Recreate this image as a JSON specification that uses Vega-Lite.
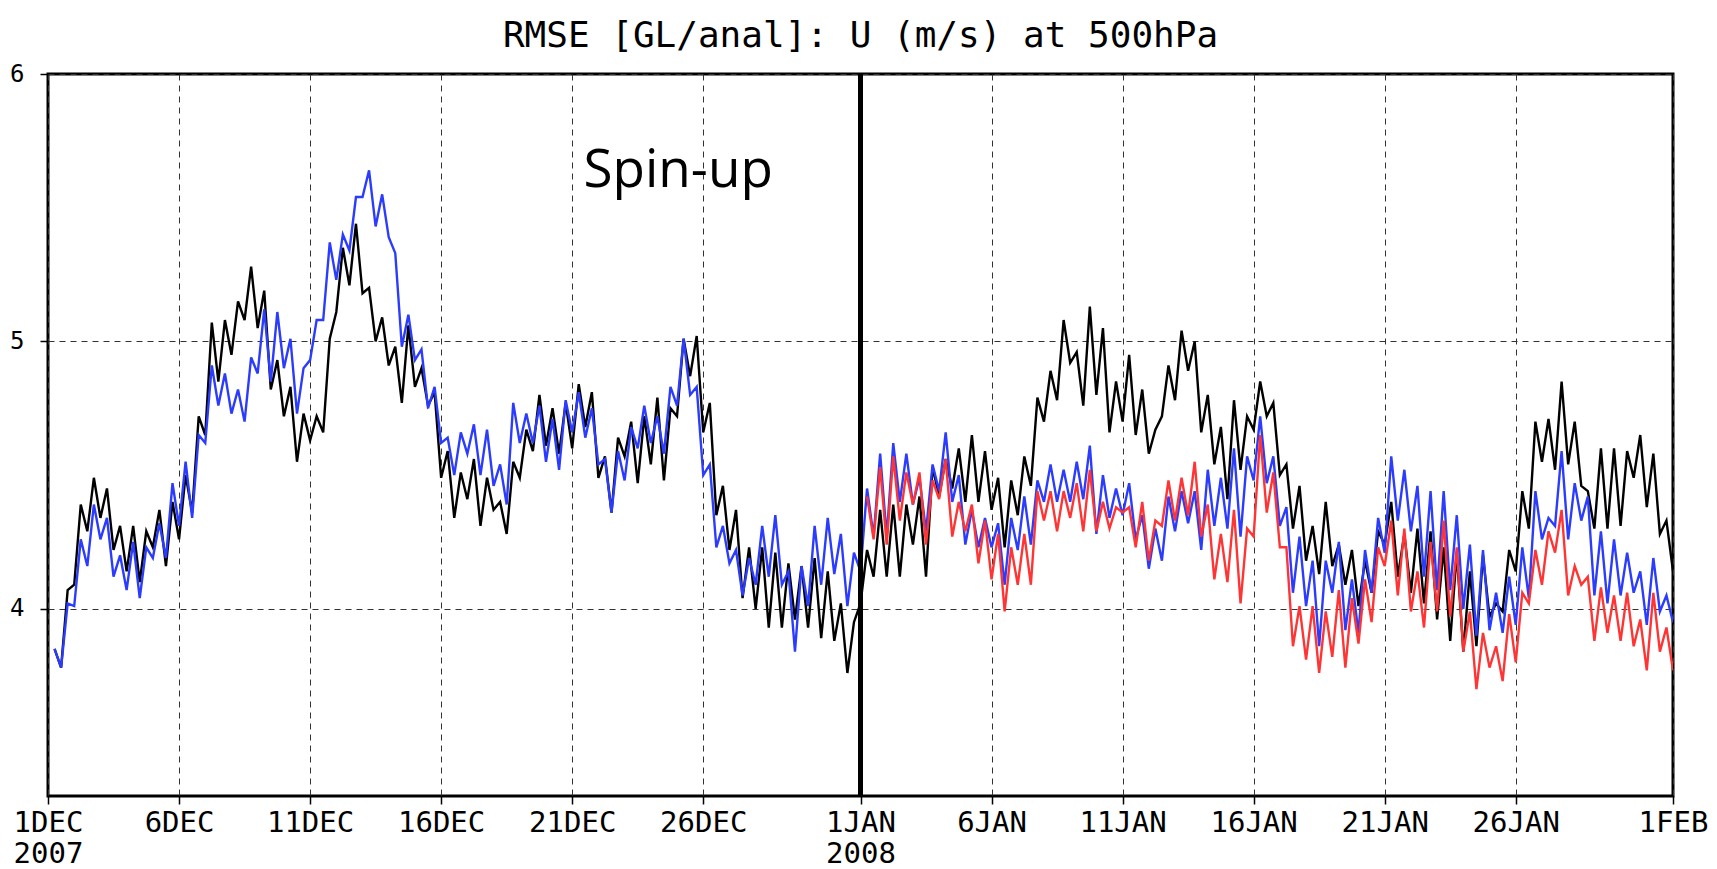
{
  "$schema": "https://vega.github.io/schema/vega-lite/v6.json",
  "width": 1625,
  "height": 722,
  "autosize": "none",
  "padding": {"left": 48, "top": 74, "right": 44, "bottom": 73},
  "background": "white",
  "title": {"text": "RMSE [GL/anal]: U (m/s) at 500hPa", "font": "DejaVu Sans Mono", "fontSize": 36, "fontWeight": "normal", "color": "black", "anchor": "middle", "offset": 7},
  "config": {"view": {"stroke": "black", "strokeWidth": 3}},
  "layer": [
    {
      "data": {"values": [
        {"t":"2007-12-01T06:00Z","k":3.85,"b":3.85},{"t":"2007-12-01T12:00Z","k":3.78,"b":3.78},{"t":"2007-12-01T18:00Z","k":4.07,"b":4.02},
        {"t":"2007-12-02T00:00Z","k":4.09,"b":4.01},{"t":"2007-12-02T06:00Z","k":4.39,"b":4.26},{"t":"2007-12-02T12:00Z","k":4.29,"b":4.16},{"t":"2007-12-02T18:00Z","k":4.49,"b":4.39},
        {"t":"2007-12-03T00:00Z","k":4.34,"b":4.26},{"t":"2007-12-03T06:00Z","k":4.45,"b":4.34},{"t":"2007-12-03T12:00Z","k":4.22,"b":4.12},{"t":"2007-12-03T18:00Z","k":4.31,"b":4.20},
        {"t":"2007-12-04T00:00Z","k":4.14,"b":4.07},{"t":"2007-12-04T06:00Z","k":4.31,"b":4.25},{"t":"2007-12-04T12:00Z","k":4.10,"b":4.04},{"t":"2007-12-04T18:00Z","k":4.29,"b":4.23},
        {"t":"2007-12-05T00:00Z","k":4.23,"b":4.19},{"t":"2007-12-05T06:00Z","k":4.37,"b":4.32},{"t":"2007-12-05T12:00Z","k":4.16,"b":4.19},{"t":"2007-12-05T18:00Z","k":4.40,"b":4.47},
        {"t":"2007-12-06T00:00Z","k":4.26,"b":4.31},{"t":"2007-12-06T06:00Z","k":4.50,"b":4.55},{"t":"2007-12-06T12:00Z","k":4.36,"b":4.34},{"t":"2007-12-06T18:00Z","k":4.72,"b":4.65},
        {"t":"2007-12-07T00:00Z","k":4.65,"b":4.62},{"t":"2007-12-07T06:00Z","k":5.07,"b":4.91},{"t":"2007-12-07T12:00Z","k":4.85,"b":4.76},{"t":"2007-12-07T18:00Z","k":5.08,"b":4.88},
        {"t":"2007-12-08T00:00Z","k":4.95,"b":4.73},{"t":"2007-12-08T06:00Z","k":5.15,"b":4.82},{"t":"2007-12-08T12:00Z","k":5.08,"b":4.70},{"t":"2007-12-08T18:00Z","k":5.28,"b":4.94},
        {"t":"2007-12-09T00:00Z","k":5.05,"b":4.88},{"t":"2007-12-09T06:00Z","k":5.19,"b":5.12},{"t":"2007-12-09T12:00Z","k":4.82,"b":4.85},{"t":"2007-12-09T18:00Z","k":4.93,"b":5.11},
        {"t":"2007-12-10T00:00Z","k":4.72,"b":4.90},{"t":"2007-12-10T06:00Z","k":4.83,"b":5.01},{"t":"2007-12-10T12:00Z","k":4.55,"b":4.73},{"t":"2007-12-10T18:00Z","k":4.73,"b":4.90},
        {"t":"2007-12-11T00:00Z","k":4.63,"b":4.93},{"t":"2007-12-11T06:00Z","k":4.72,"b":5.08},{"t":"2007-12-11T12:00Z","k":4.66,"b":5.08},{"t":"2007-12-11T18:00Z","k":5.01,"b":5.37},
        {"t":"2007-12-12T00:00Z","k":5.11,"b":5.23},{"t":"2007-12-12T06:00Z","k":5.35,"b":5.40},{"t":"2007-12-12T12:00Z","k":5.21,"b":5.34},{"t":"2007-12-12T18:00Z","k":5.44,"b":5.54},
        {"t":"2007-12-13T00:00Z","k":5.18,"b":5.54},{"t":"2007-12-13T06:00Z","k":5.20,"b":5.64},{"t":"2007-12-13T12:00Z","k":5.00,"b":5.43},{"t":"2007-12-13T18:00Z","k":5.09,"b":5.55},
        {"t":"2007-12-14T00:00Z","k":4.91,"b":5.39},{"t":"2007-12-14T06:00Z","k":4.98,"b":5.33},{"t":"2007-12-14T12:00Z","k":4.77,"b":4.98},{"t":"2007-12-14T18:00Z","k":5.06,"b":5.10},
        {"t":"2007-12-15T00:00Z","k":4.83,"b":4.93},{"t":"2007-12-15T06:00Z","k":4.90,"b":4.97},{"t":"2007-12-15T12:00Z","k":4.76,"b":4.75},{"t":"2007-12-15T18:00Z","k":4.81,"b":4.83},
        {"t":"2007-12-16T00:00Z","k":4.49,"b":4.62},{"t":"2007-12-16T06:00Z","k":4.59,"b":4.64},{"t":"2007-12-16T12:00Z","k":4.34,"b":4.50},{"t":"2007-12-16T18:00Z","k":4.51,"b":4.66},
        {"t":"2007-12-17T00:00Z","k":4.41,"b":4.58},{"t":"2007-12-17T06:00Z","k":4.56,"b":4.69},{"t":"2007-12-17T12:00Z","k":4.31,"b":4.50},{"t":"2007-12-17T18:00Z","k":4.49,"b":4.67},
        {"t":"2007-12-18T00:00Z","k":4.37,"b":4.46},{"t":"2007-12-18T06:00Z","k":4.40,"b":4.54},{"t":"2007-12-18T12:00Z","k":4.28,"b":4.39},{"t":"2007-12-18T18:00Z","k":4.55,"b":4.77},
        {"t":"2007-12-19T00:00Z","k":4.49,"b":4.62},{"t":"2007-12-19T06:00Z","k":4.67,"b":4.73},{"t":"2007-12-19T12:00Z","k":4.59,"b":4.62},{"t":"2007-12-19T18:00Z","k":4.80,"b":4.76},
        {"t":"2007-12-20T00:00Z","k":4.61,"b":4.55},{"t":"2007-12-20T06:00Z","k":4.75,"b":4.71},{"t":"2007-12-20T12:00Z","k":4.58,"b":4.52},{"t":"2007-12-20T18:00Z","k":4.77,"b":4.78},
        {"t":"2007-12-21T00:00Z","k":4.60,"b":4.66},{"t":"2007-12-21T06:00Z","k":4.84,"b":4.81},{"t":"2007-12-21T12:00Z","k":4.68,"b":4.64},{"t":"2007-12-21T18:00Z","k":4.81,"b":4.75},
        {"t":"2007-12-22T00:00Z","k":4.49,"b":4.54},{"t":"2007-12-22T06:00Z","k":4.57,"b":4.56},{"t":"2007-12-22T12:00Z","k":4.36,"b":4.36},{"t":"2007-12-22T18:00Z","k":4.64,"b":4.59},
        {"t":"2007-12-23T00:00Z","k":4.57,"b":4.48},{"t":"2007-12-23T06:00Z","k":4.70,"b":4.68},{"t":"2007-12-23T12:00Z","k":4.47,"b":4.60},{"t":"2007-12-23T18:00Z","k":4.72,"b":4.76},
        {"t":"2007-12-24T00:00Z","k":4.54,"b":4.62},{"t":"2007-12-24T06:00Z","k":4.79,"b":4.72},{"t":"2007-12-24T12:00Z","k":4.48,"b":4.58},{"t":"2007-12-24T18:00Z","k":4.75,"b":4.83},
        {"t":"2007-12-25T00:00Z","k":4.72,"b":4.76},{"t":"2007-12-25T06:00Z","k":5.01,"b":5.01},{"t":"2007-12-25T12:00Z","k":4.87,"b":4.80},{"t":"2007-12-25T18:00Z","k":5.02,"b":4.83},
        {"t":"2007-12-26T00:00Z","k":4.66,"b":4.50},{"t":"2007-12-26T06:00Z","k":4.77,"b":4.54},{"t":"2007-12-26T12:00Z","k":4.35,"b":4.23},{"t":"2007-12-26T18:00Z","k":4.46,"b":4.31},
        {"t":"2007-12-27T00:00Z","k":4.22,"b":4.17},{"t":"2007-12-27T06:00Z","k":4.37,"b":4.22},{"t":"2007-12-27T12:00Z","k":4.04,"b":4.05},{"t":"2007-12-27T18:00Z","k":4.23,"b":4.19},
        {"t":"2007-12-28T00:00Z","k":4.00,"b":4.09},{"t":"2007-12-28T06:00Z","k":4.23,"b":4.31},{"t":"2007-12-28T12:00Z","k":3.93,"b":4.12},{"t":"2007-12-28T18:00Z","k":4.21,"b":4.35},
        {"t":"2007-12-29T00:00Z","k":3.93,"b":4.09},{"t":"2007-12-29T06:00Z","k":4.17,"b":4.14},{"t":"2007-12-29T12:00Z","k":3.96,"b":3.84},{"t":"2007-12-29T18:00Z","k":4.16,"b":4.16},
        {"t":"2007-12-30T00:00Z","k":3.93,"b":4.01},{"t":"2007-12-30T06:00Z","k":4.19,"b":4.31},{"t":"2007-12-30T12:00Z","k":3.89,"b":4.09},{"t":"2007-12-30T18:00Z","k":4.14,"b":4.34},
        {"t":"2007-12-31T00:00Z","k":3.88,"b":4.13},{"t":"2007-12-31T06:00Z","k":4.02,"b":4.28},{"t":"2007-12-31T12:00Z","k":3.76,"b":4.01},{"t":"2007-12-31T18:00Z","k":3.95,"b":4.21},
        {"t":"2008-01-01T00:00Z","k":4.02,"b":4.14},{"t":"2008-01-01T06:00Z","k":4.22,"b":4.45,"r":4.42},{"t":"2008-01-01T12:00Z","k":4.12,"b":4.27,"r":4.26},{"t":"2008-01-01T18:00Z","k":4.37,"b":4.58,"r":4.53},
        {"t":"2008-01-02T00:00Z","k":4.12,"b":4.27,"r":4.24},{"t":"2008-01-02T06:00Z","k":4.39,"b":4.62,"r":4.57},{"t":"2008-01-02T12:00Z","k":4.12,"b":4.40,"r":4.33},{"t":"2008-01-02T18:00Z","k":4.39,"b":4.58,"r":4.51},
        {"t":"2008-01-03T00:00Z","k":4.24,"b":4.39,"r":4.39},{"t":"2008-01-03T06:00Z","k":4.42,"b":4.49,"r":4.51},{"t":"2008-01-03T12:00Z","k":4.12,"b":4.29,"r":4.24},{"t":"2008-01-03T18:00Z","k":4.53,"b":4.54,"r":4.48},
        {"t":"2008-01-04T00:00Z","k":4.42,"b":4.44,"r":4.41},{"t":"2008-01-04T06:00Z","k":4.56,"b":4.66,"r":4.56},{"t":"2008-01-04T12:00Z","k":4.45,"b":4.40,"r":4.27},{"t":"2008-01-04T18:00Z","k":4.60,"b":4.50,"r":4.40},
        {"t":"2008-01-05T00:00Z","k":4.40,"b":4.24,"r":4.29},{"t":"2008-01-05T06:00Z","k":4.65,"b":4.37,"r":4.39},{"t":"2008-01-05T12:00Z","k":4.40,"b":4.23,"r":4.17},{"t":"2008-01-05T18:00Z","k":4.59,"b":4.34,"r":4.33},
        {"t":"2008-01-06T00:00Z","k":4.37,"b":4.23,"r":4.11},{"t":"2008-01-06T06:00Z","k":4.49,"b":4.32,"r":4.28},{"t":"2008-01-06T12:00Z","k":4.23,"b":4.09,"r":3.99},{"t":"2008-01-06T18:00Z","k":4.48,"b":4.34,"r":4.23},
        {"t":"2008-01-07T00:00Z","k":4.35,"b":4.22,"r":4.09},{"t":"2008-01-07T06:00Z","k":4.57,"b":4.42,"r":4.28},{"t":"2008-01-07T12:00Z","k":4.46,"b":4.24,"r":4.09},{"t":"2008-01-07T18:00Z","k":4.79,"b":4.48,"r":4.44},
        {"t":"2008-01-08T00:00Z","k":4.70,"b":4.40,"r":4.33},{"t":"2008-01-08T06:00Z","k":4.89,"b":4.54,"r":4.44},{"t":"2008-01-08T12:00Z","k":4.78,"b":4.40,"r":4.29},{"t":"2008-01-08T18:00Z","k":5.08,"b":4.52,"r":4.44},
        {"t":"2008-01-09T00:00Z","k":4.92,"b":4.40,"r":4.34},{"t":"2008-01-09T06:00Z","k":4.96,"b":4.55,"r":4.47},{"t":"2008-01-09T12:00Z","k":4.76,"b":4.41,"r":4.29},{"t":"2008-01-09T18:00Z","k":5.13,"b":4.61,"r":4.52},
        {"t":"2008-01-10T00:00Z","k":4.80,"b":4.28,"r":4.29},{"t":"2008-01-10T06:00Z","k":5.05,"b":4.50,"r":4.40},{"t":"2008-01-10T12:00Z","k":4.66,"b":4.34,"r":4.30},{"t":"2008-01-10T18:00Z","k":4.85,"b":4.45,"r":4.38},
        {"t":"2008-01-11T00:00Z","k":4.70,"b":4.35,"r":4.36},{"t":"2008-01-11T06:00Z","k":4.95,"b":4.47,"r":4.38},{"t":"2008-01-11T12:00Z","k":4.65,"b":4.26,"r":4.23},{"t":"2008-01-11T18:00Z","k":4.82,"b":4.35,"r":4.40},
        {"t":"2008-01-12T00:00Z","k":4.58,"b":4.15,"r":4.18},{"t":"2008-01-12T06:00Z","k":4.67,"b":4.30,"r":4.33},{"t":"2008-01-12T12:00Z","k":4.72,"b":4.18,"r":4.31},{"t":"2008-01-12T18:00Z","k":4.91,"b":4.42,"r":4.48},
        {"t":"2008-01-13T00:00Z","k":4.78,"b":4.29,"r":4.33},{"t":"2008-01-13T06:00Z","k":5.04,"b":4.44,"r":4.49},{"t":"2008-01-13T12:00Z","k":4.89,"b":4.32,"r":4.35},{"t":"2008-01-13T18:00Z","k":5.00,"b":4.44,"r":4.55},
        {"t":"2008-01-14T00:00Z","k":4.66,"b":4.22,"r":4.27},{"t":"2008-01-14T06:00Z","k":4.80,"b":4.52,"r":4.39},{"t":"2008-01-14T12:00Z","k":4.54,"b":4.31,"r":4.11},{"t":"2008-01-14T18:00Z","k":4.68,"b":4.49,"r":4.28},
        {"t":"2008-01-15T00:00Z","k":4.41,"b":4.30,"r":4.10},{"t":"2008-01-15T06:00Z","k":4.78,"b":4.60,"r":4.37},{"t":"2008-01-15T12:00Z","k":4.52,"b":4.27,"r":4.02},{"t":"2008-01-15T18:00Z","k":4.72,"b":4.57,"r":4.30},
        {"t":"2008-01-16T00:00Z","k":4.67,"b":4.48,"r":4.27},{"t":"2008-01-16T06:00Z","k":4.85,"b":4.72,"r":4.65},{"t":"2008-01-16T12:00Z","k":4.72,"b":4.47,"r":4.36},{"t":"2008-01-16T18:00Z","k":4.77,"b":4.57,"r":4.51},
        {"t":"2008-01-17T00:00Z","k":4.50,"b":4.31,"r":4.23},{"t":"2008-01-17T06:00Z","k":4.54,"b":4.38,"r":4.23},{"t":"2008-01-17T12:00Z","k":4.30,"b":4.06,"r":3.86},{"t":"2008-01-17T18:00Z","k":4.46,"b":4.27,"r":4.01},
        {"t":"2008-01-18T00:00Z","k":4.18,"b":4.01,"r":3.81},{"t":"2008-01-18T06:00Z","k":4.31,"b":4.18,"r":4.01},{"t":"2008-01-18T12:00Z","k":4.13,"b":3.86,"r":3.76},{"t":"2008-01-18T18:00Z","k":4.40,"b":4.18,"r":3.99},
        {"t":"2008-01-19T00:00Z","k":4.16,"b":4.06,"r":3.82},{"t":"2008-01-19T06:00Z","k":4.24,"b":4.25,"r":4.07},{"t":"2008-01-19T12:00Z","k":4.09,"b":3.92,"r":3.78},{"t":"2008-01-19T18:00Z","k":4.22,"b":4.11,"r":4.04},
        {"t":"2008-01-20T00:00Z","k":4.01,"b":3.91,"r":3.87},{"t":"2008-01-20T06:00Z","k":4.18,"b":4.22,"r":4.11},{"t":"2008-01-20T12:00Z","k":4.06,"b":4.06,"r":3.95},{"t":"2008-01-20T18:00Z","k":4.29,"b":4.34,"r":4.23},
        {"t":"2008-01-21T00:00Z","k":4.24,"b":4.21,"r":4.16},{"t":"2008-01-21T06:00Z","k":4.40,"b":4.57,"r":4.33},{"t":"2008-01-21T12:00Z","k":4.12,"b":4.33,"r":4.05},{"t":"2008-01-21T18:00Z","k":4.28,"b":4.52,"r":4.30},
        {"t":"2008-01-22T00:00Z","k":4.06,"b":4.29,"r":3.99},{"t":"2008-01-22T06:00Z","k":4.30,"b":4.46,"r":4.14},{"t":"2008-01-22T12:00Z","k":4.02,"b":4.12,"r":3.93},{"t":"2008-01-22T18:00Z","k":4.29,"b":4.44,"r":4.25},
        {"t":"2008-01-23T00:00Z","k":3.96,"b":4.07,"r":3.99},{"t":"2008-01-23T06:00Z","k":4.23,"b":4.44,"r":4.33},{"t":"2008-01-23T12:00Z","k":3.88,"b":4.07,"r":3.97},{"t":"2008-01-23T18:00Z","k":4.21,"b":4.35,"r":4.23},
        {"t":"2008-01-24T00:00Z","k":3.84,"b":4.00,"r":3.84},{"t":"2008-01-24T06:00Z","k":4.14,"b":4.24,"r":3.99},{"t":"2008-01-24T12:00Z","k":3.86,"b":3.90,"r":3.70},{"t":"2008-01-24T18:00Z","k":4.20,"b":4.22,"r":3.91},
        {"t":"2008-01-25T00:00Z","k":3.97,"b":3.92,"r":3.78},{"t":"2008-01-25T06:00Z","k":4.02,"b":4.06,"r":3.86},{"t":"2008-01-25T12:00Z","k":3.99,"b":3.91,"r":3.73},{"t":"2008-01-25T18:00Z","k":4.22,"b":4.12,"r":3.98},
        {"t":"2008-01-26T00:00Z","k":4.14,"b":3.94,"r":3.80},{"t":"2008-01-26T06:00Z","k":4.44,"b":4.23,"r":4.06},{"t":"2008-01-26T12:00Z","k":4.30,"b":4.04,"r":4.02},{"t":"2008-01-26T18:00Z","k":4.70,"b":4.44,"r":4.22},
        {"t":"2008-01-27T00:00Z","k":4.55,"b":4.26,"r":4.09},{"t":"2008-01-27T06:00Z","k":4.71,"b":4.34,"r":4.29},{"t":"2008-01-27T12:00Z","k":4.52,"b":4.31,"r":4.21},{"t":"2008-01-27T18:00Z","k":4.85,"b":4.59,"r":4.37},
        {"t":"2008-01-28T00:00Z","k":4.54,"b":4.26,"r":4.05},{"t":"2008-01-28T06:00Z","k":4.70,"b":4.47,"r":4.16},{"t":"2008-01-28T12:00Z","k":4.46,"b":4.33,"r":4.09},{"t":"2008-01-28T18:00Z","k":4.44,"b":4.42,"r":4.12},
        {"t":"2008-01-29T00:00Z","k":4.30,"b":4.05,"r":3.88},{"t":"2008-01-29T06:00Z","k":4.60,"b":4.29,"r":4.08},{"t":"2008-01-29T12:00Z","k":4.30,"b":4.02,"r":3.91},{"t":"2008-01-29T18:00Z","k":4.60,"b":4.26,"r":4.05},
        {"t":"2008-01-30T00:00Z","k":4.31,"b":4.05,"r":3.88},{"t":"2008-01-30T06:00Z","k":4.59,"b":4.21,"r":4.06},{"t":"2008-01-30T12:00Z","k":4.49,"b":4.06,"r":3.86},{"t":"2008-01-30T18:00Z","k":4.65,"b":4.14,"r":3.96},
        {"t":"2008-01-31T00:00Z","k":4.38,"b":3.94,"r":3.77},{"t":"2008-01-31T06:00Z","k":4.58,"b":4.19,"r":4.06},{"t":"2008-01-31T12:00Z","k":4.28,"b":3.99,"r":3.84},{"t":"2008-01-31T18:00Z","k":4.33,"b":4.05,"r":3.93},
        {"t":"2008-02-01T00:00Z","k":4.14,"b":3.95,"r":3.77}
      ]},
      "transform": [
        {"fold": ["k", "b", "r"], "as": ["series", "value"]},
        {"filter": "isValid(datum.value)"}
      ],
      "mark": {"type": "line", "strokeWidth": 2.4, "clip": true},
      "encoding": {
        "x": {
          "field": "t", "type": "temporal",
          "scale": {"type": "utc", "domain": [{"year": 2007, "month": 12, "date": 1, "utc": true}, {"year": 2008, "month": 2, "date": 1, "utc": true}]},
          "axis": {
            "title": null,
            "values": [
              {"year": 2007, "month": 12, "date": 1, "utc": true},
              {"year": 2007, "month": 12, "date": 6, "utc": true},
              {"year": 2007, "month": 12, "date": 11, "utc": true},
              {"year": 2007, "month": 12, "date": 16, "utc": true},
              {"year": 2007, "month": 12, "date": 21, "utc": true},
              {"year": 2007, "month": 12, "date": 26, "utc": true},
              {"year": 2008, "month": 1, "date": 1, "utc": true},
              {"year": 2008, "month": 1, "date": 6, "utc": true},
              {"year": 2008, "month": 1, "date": 11, "utc": true},
              {"year": 2008, "month": 1, "date": 16, "utc": true},
              {"year": 2008, "month": 1, "date": 21, "utc": true},
              {"year": 2008, "month": 1, "date": 26, "utc": true},
              {"year": 2008, "month": 2, "date": 1, "utc": true}
            ],
            "labelExpr": "utcdate(datum.value) == 1 && utcmonth(datum.value) != 1 ? [upper(utcFormat(datum.value, '%-d%b')), utcFormat(datum.value, '%Y')] : upper(utcFormat(datum.value, '%-d%b'))",
            "labelFont": "DejaVu Sans Mono", "labelFontSize": 29, "labelColor": "black",
            "labelAlign": "center", "labelBaseline": "top", "labelPadding": 4, "labelLineHeight": 31,
            "labelFlush": false, "labelOverlap": false,
            "domain": false,
            "ticks": true, "tickColor": "black", "tickSize": 8, "tickWidth": 1.5,
            "grid": true, "gridColor": "#333333", "gridDash": [6, 5], "gridWidth": 1
          }
        },
        "y": {
          "field": "value", "type": "quantitative",
          "scale": {"domain": [3.3, 6], "nice": false, "zero": false},
          "axis": {
            "title": null, "values": [4, 5, 6], "format": "d",
            "labelFont": "DejaVu Sans Mono", "labelFontSize": 24, "labelColor": "black", "labelPadding": 16,
            "domain": false,
            "ticks": true, "tickColor": "black", "tickSize": 8, "tickWidth": 1.5,
            "grid": true, "gridColor": "#333333", "gridDash": [6, 5], "gridWidth": 1
          }
        },
        "color": {
          "field": "series", "type": "nominal",
          "scale": {"domain": ["k", "b", "r"], "range": ["#000000", "#2b3cff", "#ff3535"]},
          "legend": null
        }
      }
    },
    {
      "data": {"values": [{"t": "2008-01-01T00:00Z"}]},
      "mark": {"type": "rule", "color": "black", "strokeWidth": 5},
      "encoding": {"x": {"field": "t", "type": "temporal"}}
    },
    {
      "data": {"values": [{"t": "2007-12-25T01:00Z", "v": 5.576, "label": "Spin-up"}]},
      "mark": {"type": "text", "font": "Open Sans", "fontSize": 53, "color": "black", "align": "center", "baseline": "alphabetic"},
      "encoding": {
        "x": {"field": "t", "type": "temporal"},
        "y": {"field": "v", "type": "quantitative"},
        "text": {"field": "label"}
      }
    }
  ]
}
